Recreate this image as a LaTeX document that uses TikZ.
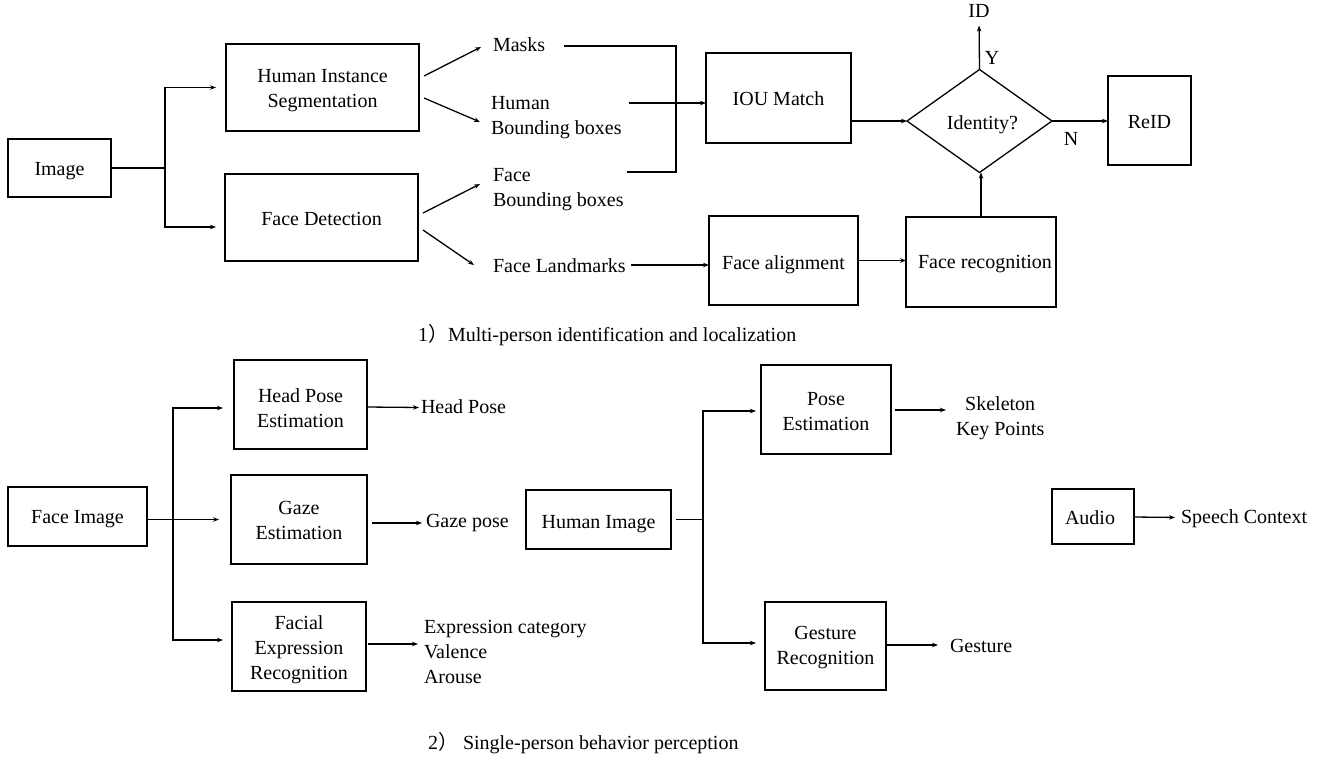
\documentclass[tikz,border=0pt]{standalone}
\usepackage{fontspec}
\setmainfont{Liberation Serif}
\newfontfamily\cjkfont{Noto Sans CJK SC}
\usetikzlibrary{arrows.meta,shapes.geometric,calc}
\begin{document}
\begin{tikzpicture}[x=1pt,y=-1pt,
  every node/.style={font=\fontsize{20}{25}\selectfont, inner sep=0pt, outer sep=0pt},
  box/.style={draw, line width=1.3pt},
  % text inside a box, lowered by #1 and shifted right by #2
  txt/.style n args={3}{label={[align=center, yshift=-#1, xshift=#2]center:{#3}}},
  lbl/.style={anchor=west, align=left},
  link/.style={line width=1.3pt},
  arr/.style={link, -{Stealth[length=6pt,width=4.5pt]}},
]
\useasboundingbox (0,0) rectangle (1337,761);

% ---------- 1) Multi-person identification and localization ----------
\node[box, minimum width=103, minimum height=58, txt={3pt}{0pt}{Image}] (img) at (59.5,168) {};
\node[box, minimum width=193, minimum height=87, txt={3.5pt}{0pt}{Human Instance\\Segmentation}] (his) at (322.5,87.5) {};
\node[box, minimum width=193, minimum height=87, txt={1pt}{0pt}{Face Detection}] (fd) at (321.5,217.5) {};

\node[lbl] (masks) at (493,45) {Masks};
\node[lbl] (humbb) at (491,118) {Human\\Bounding boxes};
\node[lbl] (facebb) at (493,189.5) {Face\\Bounding boxes};
\node[lbl] (landmarks) at (493,266) {Face Landmarks};

\node[box, minimum width=145, minimum height=90, txt={1pt}{0pt}{IOU Match}] (iou) at (778.5,98) {};
\node[draw, diamond, line width=1.3pt, minimum width=145, minimum height=103, txt={4pt}{3pt}{Identity?}] (id) at (979.5,121) {};
\node[box, minimum width=83, minimum height=89, txt={2pt}{0pt}{ReID}] (reid) at (1149.5,120.5) {};
\node[box, minimum width=149, minimum height=89, txt={4pt}{0pt}{Face alignment}] (falign) at (783.5,260.5) {};
\node[box, minimum width=150, minimum height=90, txt={2pt}{4pt}{Face recognition}] (frec) at (981,262) {};

\node (idlbl) at (979,11) {ID};
\node (ylbl) at (992,58) {Y};
\node (nlbl) at (1071,139) {N};

% split of the input image
\coordinate (j1) at (165,168);
\draw[link] (img.east) -- (j1);
\draw[arr, shorten >=10pt] (j1) |- (his.west);
\draw[arr, shorten >=9pt] (j1) |- ($(fd.west)+(0,9.5)$);

% outputs of segmentation and detection
\draw[arr] ($(his.east)+(5,-11.5)$) -- ($(masks.west)+(-12,2)$);
\draw[arr] ($(his.east)+(5,10.5)$) -- ($(humbb.west)+(-11,4)$);
\draw[arr] ($(fd.east)+(5,-4.5)$) -- ($(facebb.west)+(-13,-5.5)$);
\draw[arr] ($(fd.east)+(5,12.5)$) -- ($(landmarks.west)+(-19,-1)$);

% merge into IOU matching
\coordinate (jm) at (676,103);
\draw[link] ($(masks.east)+(19,1)$) -| (jm);
\draw[link] ($(facebb.east)+(3,-17.5)$) -| (jm);
\draw[arr] ($(humbb.east)+(7,-15)$) coordinate (hb) -- (hb -| iou.west);

% identity decision
\draw[arr] (iou.east |- id.west) -- (id.west);
\draw[arr, shorten >=8pt] (id.north) -- (idlbl.south);
\draw[arr] (id.east) -- (id.east -| reid.west);
\draw[arr] (frec.north) -- (frec.north |- id.south);

% face recognition branch
\draw[arr] ($(landmarks.east)+(5,-1)$) coordinate (lm) -- (lm -| falign.west);
\draw[arr] (falign.east) -- (falign.east -| frec.west);

\node[anchor=west] (cap1) at (418,335) {1{\cjkfont ）}Multi-person identification and localization};

% ---------- 2) Single-person behavior perception ----------
\node[box, minimum width=139, minimum height=59, txt={2.5pt}{0pt}{Face Image}] (faceimg) at (77.5,516.5) {};
\node[box, minimum width=133, minimum height=89, txt={4pt}{0pt}{Head Pose\\Estimation}] (hpe) at (300.5,404.5) {};
\node[box, minimum width=136, minimum height=89, txt={1pt}{0pt}{Gaze\\Estimation}] (gaze) at (299,519.5) {};
\node[box, minimum width=134, minimum height=89, txt={3pt}{0pt}{Facial\\Expression\\Recognition}] (fer) at (299,646.5) {};

\node[lbl] (headpose) at (421,407) {Head Pose};
\node[lbl] (gazepose) at (426,523) {Gaze pose};
\node[lbl] (expr) at (424,652) {Expression category\\Valence\\Arouse};

\coordinate (jf) at (173,519.5);
\draw[arr, shorten >=12pt] (faceimg.east |- gaze.west) -- (gaze.west);
\draw[arr, shorten >=11pt] (jf) |- ($(hpe.west)+(0,3.5)$);
\draw[arr, shorten >=9pt] (jf) |- ($(fer.west)+(0,-6.5)$);

\draw[arr, shorten <=1pt, shorten >=2pt] ($(hpe.east)+(0,2.5)$) -- ($(headpose.west)+(0,0.5)$);
\draw[arr, shorten <=5pt, shorten >=4pt] (gaze.east |- gazepose.west) -- (gazepose.west);
\draw[arr] ($(fer.east)+(2,-2.5)$) -- ($(expr.west)+(-6,-8)$);

\node[box, minimum width=145, minimum height=59, txt={4.5pt}{0pt}{Human Image}] (humimg) at (598.5,519.5) {};
\node[box, minimum width=130, minimum height=89, txt={2pt}{0pt}{Pose\\Estimation}] (pose) at (826,409.5) {};
\node[box, minimum width=121, minimum height=88, txt={1.5pt}{0pt}{Gesture\\Recognition}] (gesture) at (825.5,646) {};

\node[anchor=west, align=center] (skel) at (956,418) {Skeleton\\Key Points};
\node[lbl] (gesturelbl) at (950,646) {Gesture};

\coordinate (jh) at (703,519.5);
\draw[link] ($(humimg.east)+(5,0)$) -- (jh);
\draw[arr, shorten >=5pt] (jh) |- ($(pose.west)+(0,1.5)$);
\draw[arr, shorten >=9pt] (jh) |- ($(gesture.west)+(0,-3)$);
\draw[arr] ($(pose.east)+(4,0.5)$) -- ($(skel.west)+(-10,-8)$);
\draw[arr] ($(gesture.east)+(0,-1)$) -- ($(gesturelbl.west)+(-12,-1)$);

\node[box, minimum width=82, minimum height=55, txt={1pt}{-3pt}{Audio}] (audio) at (1093,516.5) {};
\node[lbl] (speech) at (1181,519) {Speech Context};
\draw[arr, shorten >=6pt] ($(audio.east)+(0,0.5)$) -- ($(speech.west)+(0,-1.5)$);

\node[anchor=west] (cap2) at (428,743) {2{\cjkfont ）}\ Single-person behavior perception};
\end{tikzpicture}
\end{document}
